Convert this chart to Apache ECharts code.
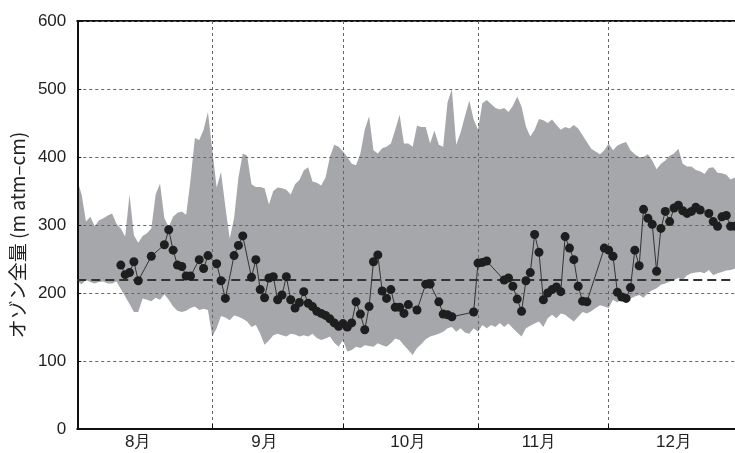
<!DOCTYPE html>
<html>
<head>
<meta charset="utf-8">
<script src="https://cdn.jsdelivr.net/npm/echarts@6/dist/echarts.min.js"></script>
<style>
  html, body { margin: 0; padding: 0; background: #fff; }
  #chart { width: 735px; height: 453px; }
</style>
</head>
<body>
<div id="chart"></div>
<script>
// 月と日数 (8/1 から 12/30 まで)
const monthNames = ['8月', '9月', '10月', '11月', '12月']
const monthDays = [31, 30, 31, 30, 30]
const monthStartIdx = [0, 31, 61, 92, 122]
const monthLabelIdx = [14, 43, 76, 106, 137]

// 過去の範囲 (上限・下限)  m atm-cm
const upper = [
  366, 345, 305, 312, 298, 307, 310, 314, 317, 302,
  295, 283, 345, 285, 274, 284, 288, 295, 345, 361,
  310, 297, 312, 318, 320, 315, 366, 428, 425, 440,
  466, 410, 355, 378, 327, 280, 310, 370, 405, 402,
  360, 356, 356, 354, 330, 350, 355, 354, 352, 345,
  360, 366, 380, 385, 364, 362, 358, 370, 400, 418,
  415, 408, 400, 390, 388, 405, 440, 460, 410, 405,
  413, 415, 420, 440, 462, 420, 420, 415, 446, 444,
  444, 420, 439, 418, 415, 480, 500, 418, 436, 460,
  483, 455, 440, 479, 484, 478, 472, 470, 472, 466,
  475, 489, 474, 445, 430, 440, 456, 454, 450, 455,
  447, 440, 444, 442, 447, 442, 432, 422, 412, 408,
  404, 410, 420, 410, 417, 420, 422, 410, 404, 400,
  400, 404, 395, 382, 390, 395, 402, 405, 412, 390,
  386, 386, 381, 379, 375, 384, 385, 377, 376, 374,
  367, 370
]
const lower = [
  217, 213, 219, 216, 214, 216, 217, 214, 214, 217,
  206, 195, 184, 172, 172, 192, 190, 188, 193, 190,
  198, 190, 180, 174, 172, 174, 178, 180, 175, 177,
  175, 136, 148, 166, 164, 160, 167, 165, 162, 158,
  150, 153, 140, 124, 130, 138, 140, 138, 136, 140,
  139, 136, 138, 136, 140, 134, 131, 133, 136, 127,
  121, 131, 114, 116, 121, 119, 123, 122, 121, 126,
  123, 121, 126, 133, 131, 123, 116, 109, 119, 125,
  132, 136, 138, 140, 143, 148, 150, 143, 148, 142,
  140, 148, 143, 153, 148, 153, 150, 156, 150, 155,
  148, 142, 136, 148, 152, 155, 158, 150, 163, 168,
  163, 170, 168, 163, 158, 165, 172, 170, 173, 178,
  182, 180, 178, 190, 186, 192, 190, 192, 195, 197,
  193, 200, 204, 207, 212, 214, 217, 219, 222, 219,
  226, 229, 230, 231, 229, 234, 226, 229, 231, 233,
  234, 236
]
// 日々の観測値 (欠測は null)
const observed = [
  null, null, null, null, null, null, null, null, null, null,
  241, 227, 230, 246, 218, null, null, 254, null, null,
  271, 293, 263, 241, 239, 225, 225, null, 249, 236,
  255, null, 243, 218, 192, null, 255, 270, 284, null,
  223, 249, 205, 193, 222, 224, 190, 197, 224, 190,
  178, 186, 202, 185, 180, 173, 170, 167, 162, 156,
  151, 155, 150, 156, 187, 169, 146, 180, 246, 256,
  203, 192, 205, 179, 179, 170, 183, null, 175, null,
  213, 213, null, 187, 169, 168, 165, null, null, null,
  null, 172, 244, 245, 247, null, null, null, 219, 222,
  210, 191, 173, 218, 230, 286, 260, 190, 200, 205,
  209, 202, 283, 266, 249, 210, 188, 187, null, null,
  null, 266, 263, 254, 201, 194, 192, 208, 263, 240,
  323, 310, 301, 232, 295, 320, 305, 325, 329, 321,
  317, 320, 326, 322, null, 317, 305, 298, 312, 314,
  298, 298
]
// 平年値
const normalValue = 220

const days = []
monthNames.forEach((m, i) => {
  for (let d = 1; d <= monthDays[i]; d++) days.push(m + d + '日')
})
const spread = upper.map((u, i) => u - lower[i])

const isMonthStart = (idx) => idx > 0 && monthStartIdx.includes(idx)
const labelFont = { fontFamily: 'Liberation Sans', fontSize: 17, color: '#222' }

const chart = echarts.init(document.getElementById('chart'))
chart.setOption({
  animation: false,
  backgroundColor: '#fff',
  grid: { left: 77, right: 0, top: 21, bottom: 24, containLabel: false },
  xAxis: [
    {
      type: 'category',
      data: days,
      boundaryGap: false,
      z: 3,
      axisLine: { lineStyle: { color: '#111', width: 2 } },
      axisTick: { show: true, inside: true, length: 5, interval: isMonthStart, lineStyle: { color: '#111' } },
      splitLine: { show: true, interval: isMonthStart, lineStyle: { color: '#666', type: [3, 3], width: 1 } },
      axisLabel: {
        ...labelFont,
        margin: 5,
        interval: (idx) => monthLabelIdx.includes(idx),
        formatter: (v, idx) => {
          const k = monthLabelIdx.indexOf(idx)
          return k >= 0 ? monthNames[k] : ''
        }
      }
    },
    {
      type: 'category',
      position: 'top',
      data: days,
      boundaryGap: false,
      axisLine: { lineStyle: { color: '#111', width: 2 } },
      axisTick: { show: false },
      axisLabel: { show: false },
      splitLine: { show: false }
    }
  ],
  yAxis: {
    type: 'value',
    min: 0,
    max: 600,
    interval: 100,
    z: 3,
    name: 'オゾン全量 (m atm–cm)',
    nameLocation: 'middle',
    nameGap: 46,
    nameTextStyle: {
      fontFamily: 'Noto Sans CJK JP',
      fontSize: 19,
      color: '#222',
      padding: [0, 20, 0, 0]
    },
    axisLine: { show: true, lineStyle: { color: '#111', width: 2 } },
    axisTick: { show: true, inside: true, length: 4, lineStyle: { color: '#111' } },
    axisLabel: { ...labelFont, margin: 11 },
    splitLine: { show: true, lineStyle: { color: '#666', type: [3, 3], width: 1 } }
  },
  series: [
    {
      name: '下限',
      type: 'line',
      stack: 'range',
      data: lower,
      symbol: 'none',
      z: 1,
      lineStyle: { opacity: 0 }
    },
    {
      name: '範囲',
      type: 'line',
      stack: 'range',
      data: spread,
      symbol: 'none',
      z: 1,
      lineStyle: { opacity: 0 },
      areaStyle: { color: '#a5a7aa', opacity: 1 }
    },
    {
      name: '平年値',
      type: 'line',
      data: [],
      z: 4,
      markLine: {
        silent: true,
        symbol: 'none',
        label: { show: false },
        lineStyle: { color: '#333', width: 2, type: [9, 5] },
        data: [{ yAxis: normalValue }]
      }
    },
    {
      name: '観測値',
      type: 'line',
      data: observed,
      connectNulls: true,
      z: 10,
      symbol: 'circle',
      symbolSize: 9,
      showAllSymbol: true,
      itemStyle: { color: '#1e1e1e' },
      lineStyle: { color: '#333', width: 1 }
    }
  ]
})
</script>
</body>
</html>
